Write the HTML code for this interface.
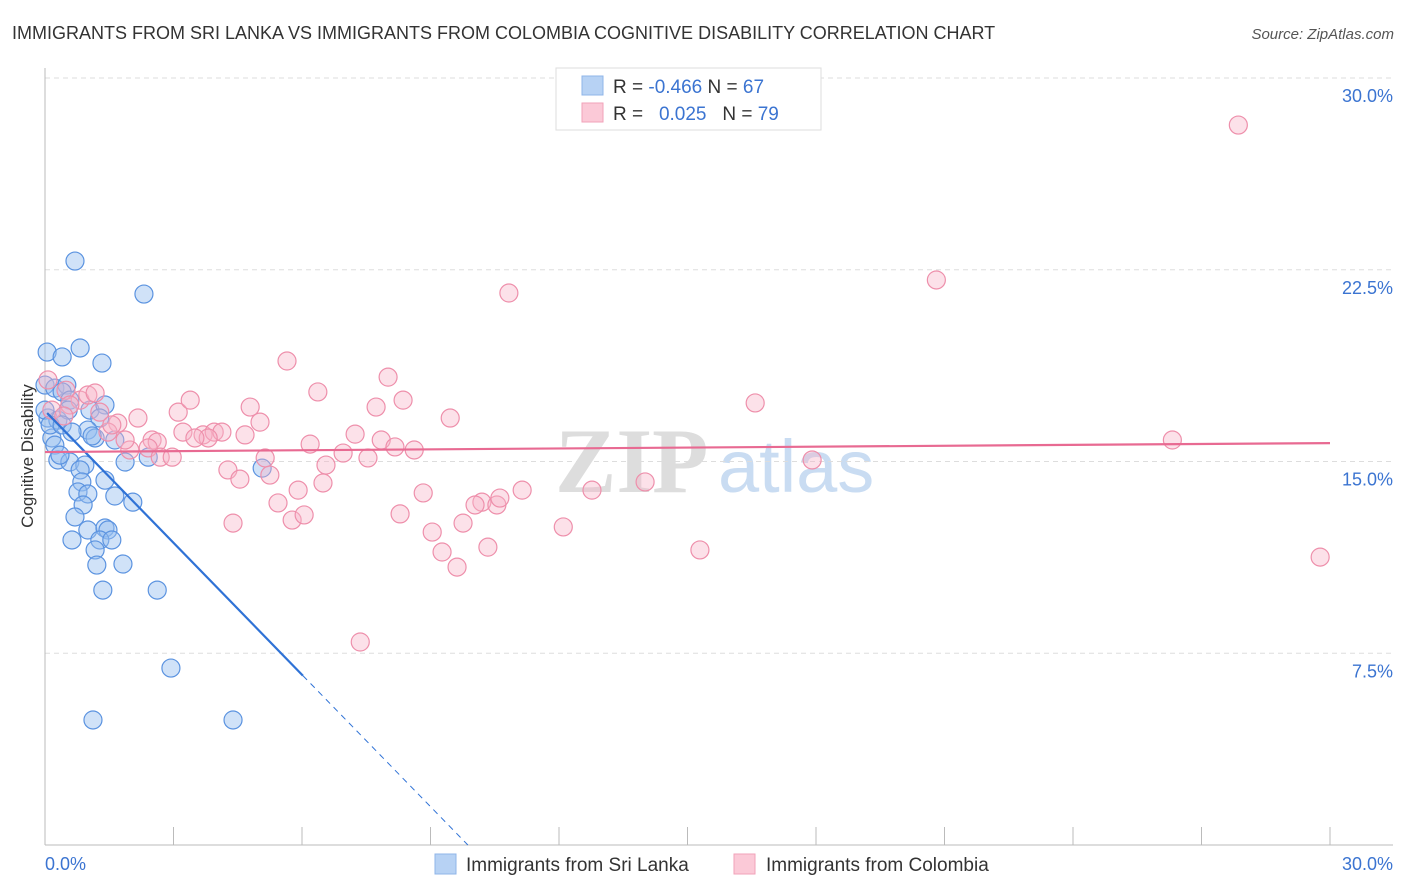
<!DOCTYPE html>
<html><head><meta charset="utf-8"><style>
body{margin:0;background:#fff;font-family:"Liberation Sans",sans-serif}
</style></head><body>
<svg id="chart" width="1406" height="892" xmlns="http://www.w3.org/2000/svg" style="display:block">
<text x="12" y="39" font-size="18" fill="#333">IMMIGRANTS FROM SRI LANKA VS IMMIGRANTS FROM COLOMBIA COGNITIVE DISABILITY CORRELATION CHART</text>
<text x="1394" y="39" font-size="15" fill="#555" font-style="italic" text-anchor="end">Source: ZipAtlas.com</text>
<g>
<text x="555" y="492" font-size="92" fill="#ddd" font-family="Liberation Serif,serif" font-weight="bold">ZIP</text>
<text x="718" y="492" font-size="74" fill="#c9dcf2">atlas</text>
</g>
<g id="grid"></g><g id="axes"></g><g id="pts"></g><g id="trend"></g>
<text transform="translate(33,456) rotate(-90)" font-size="17" fill="#333" text-anchor="middle">Cognitive Disability</text>
<g>
<rect x="556" y="68" width="265" height="62" fill="#fff" stroke="#ddd"/>
<rect x="582" y="76" width="21" height="19" fill="#b7d2f4" stroke="#8fb5e8"/>
<rect x="582" y="103" width="21" height="19" fill="#fbc9d7" stroke="#f1a2b8"/>
<text x="613" y="93" font-size="19" fill="#333">R = <tspan fill="#3b74d1">-0.466</tspan>   N = <tspan fill="#3b74d1">67</tspan></text>
<text x="613" y="120" font-size="19" fill="#333" xml:space="preserve">R =   <tspan fill="#3b74d1">0.025</tspan>   N = <tspan fill="#3b74d1">79</tspan></text>
</g>
<g>
<rect x="435" y="854" width="21" height="20" fill="#b7d2f4" stroke="#8fb5e8"/>
<text x="466" y="871" font-size="19" fill="#333">Immigrants from Sri Lanka</text>
<rect x="734" y="854" width="21" height="20" fill="#fbc9d7" stroke="#f1a2b8"/>
<text x="766" y="871" font-size="19" fill="#333">Immigrants from Colombia</text>
</g>
</svg>
<script>
const yTicks=[7.5,15,22.5,30];
const yTickLabels=["7.5%","15.0%","22.5%","30.0%"];
const xTicks=[0,3,6,9,12,15,18,21,24,27,30];
const sriLankaX=[0.05,0.40,0.70,2.31,0.82,1.33,0,0.23,0.51,0.40,0.58,1.05,1.40,0.07,0.30,0.54,1.28,1.00,1.17,1.63,0.16,0.23,0.30,0.58,0.35,0.93,1.87,2.41,5.07,0.82,0.86,0.77,1.00,1.63,0.89,2.05,1.40,0.70,1.00,1.40,1.47,0.63,1.28,1.56,1.17,1.82,1.21,1.35,2.62,2.94,1.12,4.39,0,0.12,0.40,0.63,1.10];
const sriLankaY=[19.28,19.09,22.84,21.55,19.44,18.85,17.99,17.87,17.99,17.72,17.40,17.01,17.21,16.70,16.62,17.01,16.70,16.23,15.92,15.84,15.92,15.64,15.06,14.98,15.25,14.86,14.98,15.17,14.74,14.67,14.20,13.81,13.73,13.65,13.30,13.41,14.27,12.83,12.32,12.40,12.32,11.93,11.93,11.93,11.54,10.99,10.95,9.97,9.97,6.92,4.89,4.89,17.01,16.43,16.43,16.15,16.00];
const colombiaX=[27.86,20.81,10.83,5.65,8.01,6.37,8.36,7.73,4.79,9.46,16.58,3.11,3.39,2.17,1.70,1.47,2.50,2.62,3.22,3.69,3.95,4.13,4.67,5.02,3.81,3.50,7.24,7.85,8.17,8.62,6.19,6.96,7.54,5.14,26.32,1.98,2.41,2.69,2.97,4.27,4.55,5.25,6.56,5.91,6.49,5.44,8.83,11.14,10.20,10.04,10.55,10.62,12.77,14.01,17.91,4.39,5.77,6.05,8.29,9.04,9.76,12.10,9.27,10.34,9.62,15.29,29.77,7.36,0.49,0.82,0.16,1.00,1.17,0.58,0.44,1.28,1.56,1.87,0.07];
const colombiaY=[28.16,22.10,21.59,18.93,18.30,17.72,17.40,17.13,17.13,16.70,17.29,16.93,17.40,16.70,16.50,16.15,15.84,15.76,16.15,16.04,16.15,16.15,16.04,16.54,15.92,15.92,16.07,15.84,15.57,15.45,15.68,15.33,15.14,15.14,15.84,15.45,15.53,15.17,15.17,14.67,14.31,14.47,14.86,13.88,14.16,13.38,13.77,13.88,13.41,13.30,13.30,13.57,13.88,14.20,15.06,12.59,12.71,12.91,12.95,12.24,12.59,12.44,11.46,11.65,10.87,11.54,11.26,7.94,17.79,17.40,17.01,17.60,17.68,17.21,16.78,16.93,16.43,15.84,18.19];
const blueTrend=[16.98,-1.72];const blueSolidEnd=6.02;
const pinkTrend=[15.37,15.72];
const X0=45,X1=1330,Y0=845,Y1=78;
const sx=v=>X0+(v/30)*(X1-X0), sy=v=>Y0-(v/30)*(Y0-Y1);
const NS="http://www.w3.org/2000/svg";
function mk(tag,attrs,parent){const e=document.createElementNS(NS,tag);for(const k in attrs)e.setAttribute(k,attrs[k]);document.getElementById(parent).appendChild(e);return e;}
yTicks.forEach((t,i)=>{
 const g=mk('line',{x1:X0,x2:1393,y1:sy(t),y2:sy(t),stroke:'#ddd','stroke-dasharray':'5,4'},'grid');
 
 
 const l=mk('text',{x:1393,y:sy(t)+24,'font-size':18,fill:'#3b74d1','text-anchor':'end'},'grid');
 l.textContent=yTickLabels[i];
 
 
});
const ax=mk('line',{x1:X0,x2:X0,y1:68,y2:Y0,stroke:'#bbb'},'axes');


const bx=mk('line',{x1:X0,x2:1393,y1:Y0,y2:Y0,stroke:'#bbb'},'axes');


xTicks.forEach(t=>{const k=mk('line',{x1:sx(t),x2:sx(t),y1:Y0,y2:Y0-18,stroke:'#bbb'},'axes');
 
 });
const xl0=mk('text',{x:45,y:870,'font-size':18,fill:'#3b74d1'},'axes');xl0.textContent='0.0%';


const xl1=mk('text',{x:1393,y:870,'font-size':18,fill:'#3b74d1','text-anchor':'end'},'axes');xl1.textContent='30.0%';


sriLankaX.forEach((v,i)=>{const c=mk('circle',{cx:sx(v),cy:sy(sriLankaY[i]),r:9,fill:'rgba(150,190,240,0.45)',stroke:'#5b93e0','stroke-width':1.2},'pts');
 
 });
colombiaX.forEach((v,i)=>{const c=mk('circle',{cx:sx(v),cy:sy(colombiaY[i]),r:9,fill:'rgba(248,180,200,0.4)',stroke:'#ee8fab','stroke-width':1.2},'pts');
 
 });
const bf=x=>blueTrend[0]+blueTrend[1]*x;
const b1=mk('line',{x1:sx(0.05),y1:sy(bf(0.05)),x2:sx(blueSolidEnd),y2:sy(bf(blueSolidEnd)),stroke:'#2f72d6','stroke-width':2.2},'trend');


const xz=-blueTrend[0]/blueTrend[1];
const b2=mk('line',{x1:sx(blueSolidEnd),y1:sy(bf(blueSolidEnd)),x2:sx(xz),y2:sy(0),stroke:'#2f72d6','stroke-width':1,'stroke-dasharray':'6,5'},'trend');


const p=mk('line',{x1:sx(0),y1:sy(pinkTrend[0]),x2:sx(30),y2:sy(pinkTrend[1]),stroke:'#e86a92','stroke-width':2.2},'trend');


</script>
</body></html>
